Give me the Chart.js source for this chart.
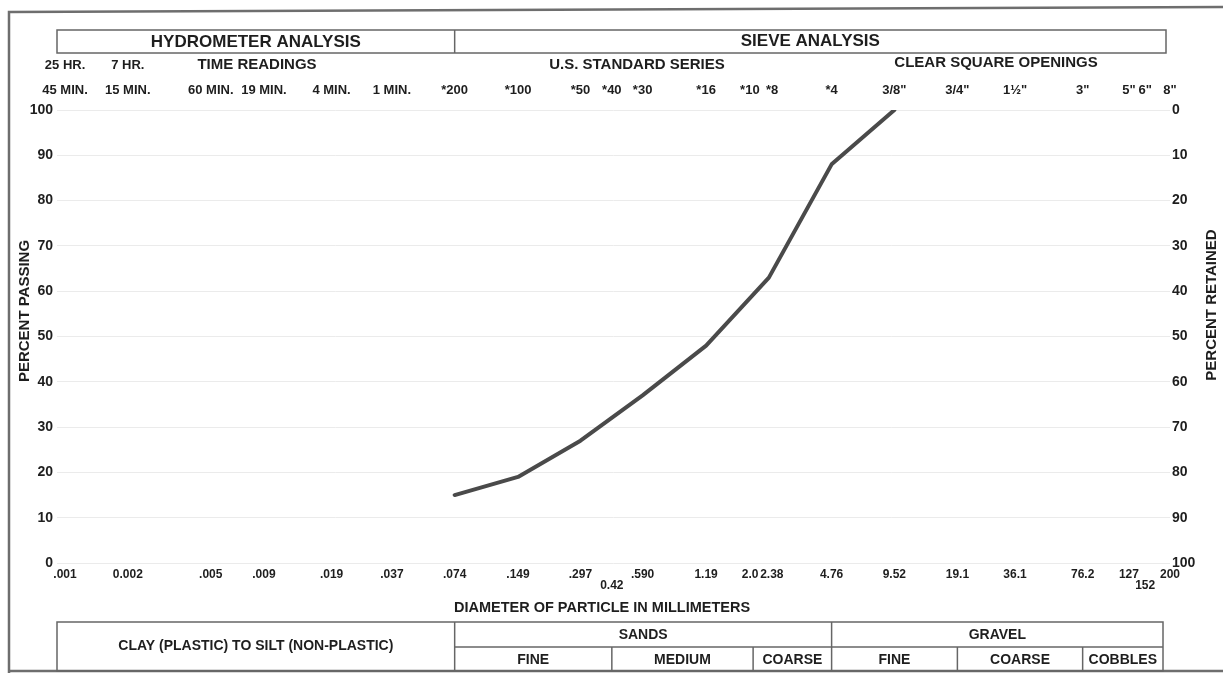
<!DOCTYPE html>
<html lang="es">
<head>
<meta charset="utf-8">
<title>Análisis granulométrico</title>
<script src="https://cdn.jsdelivr.net/npm/chart.js@4.4.1/dist/chart.umd.min.js"></script>
<style>
    html, body { margin: 0; padding: 0; background: #ffffff; }
    #graficoGranulometria { display: block; }
</style>
</head>
<body>
<canvas id="graficoGranulometria" width="1223" height="673"></canvas>
<script>
// ===== CURVA GRANULOMÉTRICA =====

// Ensayo: tamaño de partícula (mm) y porcentaje que pasa
const tamanosTamiz = [0.074, 0.149, 0.297, 0.590, 1.19, 2.38, 4.76, 9.52];
const porcentajePasa = [15, 19, 27, 37, 48, 63, 88, 100];

// Marcas del eje de diámetros (mm)
const diametrosEje = [0.001, 0.002, 0.005, 0.009, 0.019, 0.037, 0.074, 0.149, 0.297, 0.42, 0.590,
    1.19, 2.0, 2.38, 4.76, 9.52, 19.1, 36.1, 76.2, 127, 152, 200];

// Etiquetas inferiores (mm); 0.42 y 152 van en segunda línea
const etiquetasDiametro = ['.001', '0.002', '.005', '.009', '.019', '.037', '.074', '.149', '.297', ['', '0.42'], '.590',
    '1.19', '2.0\u2002', '\u20022.38', '4.76', '9.52', '19.1', '36.1', '76.2', '127', ['', '152'], '200'];

// Etiquetas superiores: lecturas de tiempo, tamices y aberturas
const etiquetasTamiz = [['25 HR.', '45 MIN.'], ['7 HR.', '15 MIN.'], '60 MIN.', '19 MIN.', '4 MIN.', '1 MIN.',
    '*200', '*100', '*50', '*40', '*30', '*16', '*10\u2002', '\u2002*8', '*4',
    '3/8"', '3/4"', '1½"', '3"', '5"', '6"', '8"'];

// Límites del eje logarítmico
const diametroMin = 0.000915;
const diametroMax = 200;

const FUENTE = "'Liberation Sans', Arial, sans-serif";
const COLOR_TEXTO = '#1e1e1e';
const COLOR_LINEA = '#666666';

Chart.defaults.font.family = FUENTE;
Chart.defaults.font.weight = 'bold';
Chart.defaults.color = COLOR_TEXTO;

// Dibuja texto centrado
function texto(ctx, t, x, y, size, rot) {
    ctx.save();
    ctx.font = 'bold ' + size + 'px ' + FUENTE;
    ctx.fillStyle = COLOR_TEXTO;
    ctx.textAlign = 'center';
    ctx.textBaseline = 'middle';
    ctx.translate(x, y);
    if (rot) ctx.rotate(rot);
    ctx.fillText(t, 0, 0);
    ctx.restore();
}

function linea(ctx, x1, y1, x2, y2) {
    ctx.beginPath();
    ctx.moveTo(x1, y1);
    ctx.lineTo(x2, y2);
    ctx.stroke();
}

// Formato del formulario: marco, encabezados y tabla de clasificación
const pluginFormato = {
    id: 'formatoGranulometria',
    beforeDraw(chart) {
        const ctx = chart.ctx;
        ctx.save();
        ctx.fillStyle = '#ffffff';
        ctx.fillRect(0, 0, chart.width, chart.height);
        ctx.restore();
    },
    afterDraw(chart) {
        const ctx = chart.ctx;
        const area = chart.chartArea;
        const px = v => chart.scales.x.getPixelForValue(v);
        const xDiv = px(0.074);

        ctx.save();

        // Marco exterior
        ctx.strokeStyle = '#6e6e6e';
        ctx.lineWidth = 2.5;
        ctx.beginPath();
        ctx.moveTo(9, 673);
        ctx.lineTo(9, 12);
        ctx.lineTo(1223, 7);
        ctx.stroke();
        linea(ctx, 9, 671, 1223, 671);

        // Encabezado
        ctx.strokeStyle = COLOR_LINEA;
        ctx.lineWidth = 1.5;
        ctx.strokeRect(area.left, 30, 1166 - area.left, 23);
        linea(ctx, xDiv, 30, xDiv, 53);
        texto(ctx, 'HYDROMETER ANALYSIS', (area.left + xDiv) / 2, 42, 17);
        texto(ctx, 'SIEVE ANALYSIS', (xDiv + 1166) / 2, 41, 17);

        texto(ctx, 'TIME READINGS', 257, 65, 15);
        texto(ctx, 'U.S. STANDARD SERIES', 637, 65, 15);
        texto(ctx, 'CLEAR SQUARE OPENINGS', 996, 63, 15);

        // Títulos de los ejes
        texto(ctx, 'PERCENT PASSING', 25, 311, 15, -Math.PI / 2);
        texto(ctx, 'PERCENT RETAINED', 1212, 305, 15, -Math.PI / 2);
        texto(ctx, 'DIAMETER OF PARTICLE IN MILLIMETERS', 602, 608, 14.5);

        // Tabla de clasificación
        const y0 = 622, yM = 647, y1 = 671, xFin = 1163;
        const xArena = px(4.76);
        ctx.strokeRect(area.left, y0, xFin - area.left, y1 - y0);
        linea(ctx, xDiv, y0, xDiv, y1);
        linea(ctx, xArena, y0, xArena, y1);
        linea(ctx, xDiv, yM, xFin, yM);
        [0.42, 2.0, 19.1, 76.2].forEach(v => linea(ctx, px(v), yM, px(v), y1));

        const yTop = (y0 + yM) / 2 + 1, yBot = (yM + y1) / 2 + 1;
        texto(ctx, 'CLAY (PLASTIC) TO SILT (NON-PLASTIC)', (area.left + xDiv) / 2, 646, 14);
        texto(ctx, 'SANDS', (xDiv + xArena) / 2, yTop, 14);
        texto(ctx, 'GRAVEL', (xArena + xFin) / 2, yTop, 14);
        texto(ctx, 'FINE', (xDiv + px(0.42)) / 2, yBot, 14);
        texto(ctx, 'MEDIUM', (px(0.42) + px(2.0)) / 2, yBot, 14);
        texto(ctx, 'COARSE', (px(2.0) + xArena) / 2, yBot, 14);
        texto(ctx, 'FINE', (xArena + px(19.1)) / 2, yBot, 14);
        texto(ctx, 'COARSE', (px(19.1) + px(76.2)) / 2, yBot, 14);
        texto(ctx, 'COBBLES', (px(76.2) + xFin) / 2, yBot, 14);

        ctx.restore();
    }
};

// Inicializar gráfico
document.addEventListener('DOMContentLoaded', function() {
    const ctxGrafico = document.getElementById('graficoGranulometria');

    new Chart(ctxGrafico, {
        type: 'line',
        data: {
            datasets: [{
                label: 'Percent passing',
                data: tamanosTamiz.map((d, i) => ({ x: d, y: porcentajePasa[i] })),
                xAxisID: 'x',
                yAxisID: 'y',
                borderColor: '#4a4a4a',
                borderWidth: 4,
                borderJoinStyle: 'round',
                borderCapStyle: 'round',
                tension: 0,
                pointRadius: 0,
                fill: false
            }]
        },
        options: {
            responsive: false,
            animation: false,
            devicePixelRatio: 1,
            layout: { padding: 0 },
            plugins: {
                legend: { display: false },
                tooltip: { enabled: false }
            },
            scales: {
                x: {
                    type: 'logarithmic',
                    position: 'bottom',
                    min: diametroMin,
                    max: diametroMax,
                    bounds: 'data',
                    grid: { display: false, drawTicks: false },
                    border: { display: false },
                    afterBuildTicks: function(scale) {
                        scale.ticks = diametrosEje.map(v => ({ value: v }));
                    },
                    afterFit: function(scale) { scale.height = 110; },
                    ticks: {
                        autoSkip: false,
                        maxRotation: 0,
                        minRotation: 0,
                        padding: 6.5,
                        font: { size: 12, lineHeight: '11px' },
                        callback: function(value, index) {
                            return etiquetasDiametro[index];
                        }
                    }
                },
                xTamiz: {
                    type: 'logarithmic',
                    position: 'top',
                    min: diametroMin,
                    max: diametroMax,
                    bounds: 'data',
                    grid: { display: false, drawTicks: false },
                    border: { display: false },
                    afterBuildTicks: function(scale) {
                        scale.ticks = diametrosEje.map(v => ({ value: v }));
                    },
                    afterFit: function(scale) { scale.height = 110; },
                    ticks: {
                        autoSkip: false,
                        maxRotation: 0,
                        minRotation: 0,
                        padding: 7.5,
                        font: { size: 13, lineHeight: '25px' },
                        callback: function(value, index) {
                            return etiquetasTamiz[index];
                        }
                    }
                },
                y: {
                    type: 'linear',
                    position: 'left',
                    min: 0,
                    max: 100,
                    grid: { color: '#ebebeb', lineWidth: 1, drawTicks: false },
                    border: { display: false },
                    afterFit: function(scale) { scale.width = 57; },
                    ticks: {
                        stepSize: 10,
                        padding: 4,
                        font: { size: 14 }
                    }
                },
                y2: {
                    type: 'linear',
                    position: 'right',
                    reverse: true,
                    min: 0,
                    max: 100,
                    grid: { display: false, drawTicks: false },
                    border: { display: false },
                    afterFit: function(scale) { scale.width = 53; },
                    ticks: {
                        stepSize: 10,
                        padding: 2,
                        font: { size: 14 }
                    }
                }
            }
        },
        plugins: [pluginFormato]
    });
});
</script>
</body>
</html>
